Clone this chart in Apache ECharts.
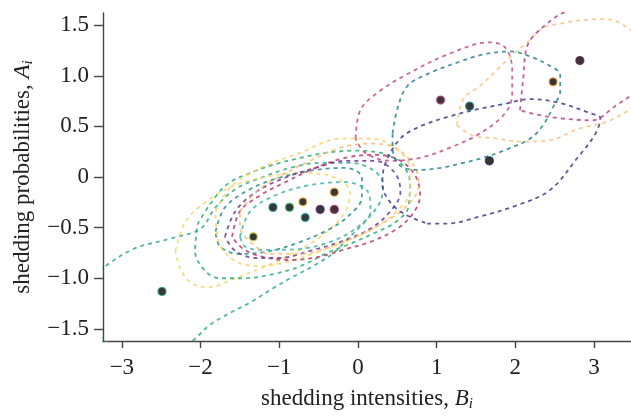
<!DOCTYPE html>
<html>
<head>
<meta charset="utf-8">
<script src="https://cdn.jsdelivr.net/npm/echarts@6/dist/echarts.min.js"></script>
<style>
html, body { margin: 0; padding: 0; background: #fff; }
#chart { width: 631px; height: 417px; }
</style>
</head>
<body>
<div id="chart"></div>
<script>
// shedding intensities (B) and probabilities (A) of each individual
const pointB = [-2.49, -1.33, -1.08, -0.87, -0.70, -0.67, -0.48, -0.30, -0.30, 1.05, 1.42, 1.67, 2.48, 2.82]
const pointA = [-1.13, -0.59, -0.30, -0.30, -0.245, -0.40, -0.32, -0.32, -0.15, 0.76, 0.70, 0.16, 0.94, 1.15]

const xTicks = [-3, -2, -1, 0, 1, 2, 3]
const yTicks = [-1.5, -1.0, -0.5, 0, 0.5, 1.0, 1.5]

// density contours, [B, A]
const contourLowTeal = [[-3.53, -1.07], [-3.21, -0.88], [-2.85, -0.71], [-2.39, -0.61], [-2.00, -0.51], [-1.81, -0.30], [-1.56, -0.12], [-1.24, -0.01], [-0.86, 0.09], [-0.48, 0.14], [-0.10, 0.14], [0.19, 0.07], [0.32, -0.07], [0.28, -0.25], [0.09, -0.44], [-0.14, -0.62], [-0.31, -0.75], [-0.57, -0.88], [-0.86, -1.00], [-1.08, -1.10], [-1.37, -1.24], [-1.62, -1.34], [-1.88, -1.46], [-2.09, -1.61], [-2.39, -1.77], [-2.89, -1.75], [-3.40, -1.46]]
const contourYellowLow = [[-2.32, -0.73], [-2.19, -0.44], [-1.94, -0.25], [-1.56, -0.08], [-1.11, 0.01], [-0.67, 0.04], [-0.29, -0.005], [-0.10, -0.15], [-0.16, -0.34], [-0.35, -0.51], [-0.67, -0.69], [-1.11, -0.86], [-1.56, -1.00], [-1.91, -1.09], [-2.13, -1.04], [-2.26, -0.90]]
const contourTeal = [[-1.81, -0.54], [-1.69, -0.30], [-1.37, -0.12], [-0.99, -0.005], [-0.54, 0.07], [-0.16, 0.09], [0.05, -0.005], [0.05, -0.20], [-0.10, -0.37], [-0.35, -0.51], [-0.73, -0.64], [-1.11, -0.73], [-1.50, -0.76], [-1.75, -0.69]]
const contourGreen = [[-2.04, -0.47], [-1.88, -0.27], [-1.66, -0.07], [-1.37, 0.04], [-1.08, 0.12], [-0.73, 0.19], [-0.39, 0.24], [-0.06, 0.26], [0.28, 0.24], [0.54, 0.14], [0.66, -0.05], [0.64, -0.30], [0.47, -0.45], [0.19, -0.56], [-0.10, -0.66], [-0.39, -0.75], [-0.73, -0.88], [-1.08, -0.96], [-1.46, -1.00], [-1.75, -1.00], [-1.94, -0.93], [-2.07, -0.73]]
const contourYellow = [[-1.81, -0.34], [-1.62, -0.10], [-1.24, 0.09], [-0.73, 0.24], [-0.22, 0.38], [0.16, 0.38], [0.47, 0.29], [0.66, 0.09], [0.66, -0.15], [0.54, -0.30], [0.28, -0.47], [-0.10, -0.62], [-0.48, -0.73], [-0.86, -0.83], [-1.24, -0.88], [-1.56, -0.83], [-1.77, -0.64]]
const contourCyan = [[-1.50, -0.59], [-1.37, -0.34], [-1.05, -0.18], [-0.61, -0.08], [-0.16, -0.05], [0.13, -0.15], [0.16, -0.34], [-0.03, -0.51], [-0.35, -0.64], [-0.73, -0.71], [-1.18, -0.72], [-1.43, -0.69]]
const contourPurple = [[-1.69, -0.59], [-1.56, -0.34], [-1.30, -0.15], [-0.92, -0.005], [-0.54, 0.09], [-0.16, 0.16], [0.22, 0.16], [0.47, 0.04], [0.54, -0.15], [0.41, -0.34], [0.16, -0.51], [-0.22, -0.64], [-0.61, -0.73], [-0.99, -0.80], [-1.30, -0.80], [-1.56, -0.73]]
const contourCrimson = [[-1.60, -0.59], [-1.50, -0.34], [-1.24, -0.18], [-0.92, -0.05], [-0.54, 0.09], [-0.16, 0.19], [0.22, 0.22], [0.54, 0.16], [0.73, 0.01], [0.79, -0.18], [0.70, -0.36], [0.50, -0.51], [0.16, -0.64], [-0.19, -0.72], [-0.50, -0.79], [-0.86, -0.82], [-1.20, -0.79], [-1.46, -0.71]]
const contourOrange = [[-1.50, -0.34], [-1.30, -0.15], [-0.99, 0.01], [-0.61, 0.16], [-0.22, 0.29], [0.16, 0.33], [0.47, 0.29], [0.73, 0.09], [0.77, -0.10], [0.60, -0.30], [0.35, -0.44], [0.03, -0.57], [-0.35, -0.69], [-0.73, -0.76], [-1.11, -0.76], [-1.37, -0.64], [-1.50, -0.49]]
const contourPinkHigh = [[-0.03, 0.38], [0.03, 0.66], [0.26, 0.84], [0.66, 1.03], [1.17, 1.22], [1.66, 1.33], [1.87, 1.28], [1.96, 1.06], [1.96, 0.82], [1.87, 0.63], [1.55, 0.43], [1.17, 0.29], [0.79, 0.19], [0.41, 0.16], [0.09, 0.24]]
const contourTealHigh = [[0.44, 0.43], [0.50, 0.67], [0.63, 0.90], [0.92, 1.03], [1.26, 1.13], [1.59, 1.21], [1.94, 1.24], [2.19, 1.19], [2.41, 1.11], [2.57, 1.01], [2.57, 0.85], [2.48, 0.69], [2.35, 0.51], [2.19, 0.38], [1.85, 0.26], [1.59, 0.19], [1.34, 0.14], [1.05, 0.09], [0.79, 0.07], [0.54, 0.11], [0.44, 0.29]]
const contourNavy = [[0.88, -0.46], [1.13, -0.46], [1.55, -0.39], [2.02, -0.28], [2.44, -0.13], [2.79, 0.19], [3.02, 0.43], [3.08, 0.58], [2.95, 0.63], [2.57, 0.73], [2.19, 0.77], [1.85, 0.72], [1.52, 0.67], [1.17, 0.60], [0.79, 0.50], [0.54, 0.38], [0.35, 0.14], [0.31, -0.07], [0.41, -0.25], [0.60, -0.37]]
const contourOrangeHigh = [[1.26, 0.51], [1.34, 0.77], [1.55, 0.90], [1.77, 1.06], [1.94, 1.19], [2.15, 1.33], [2.35, 1.47], [2.61, 1.52], [2.86, 1.55], [3.12, 1.56], [3.33, 1.52], [3.59, 1.35], [3.71, 1.06], [3.59, 0.77], [3.21, 0.56], [2.82, 0.48], [2.41, 0.36], [2.06, 0.35], [1.77, 0.38], [1.46, 0.41]]
const contourMagentaHigh = [[2.06, 0.66], [2.10, 0.97], [2.16, 1.31], [2.38, 1.50], [2.63, 1.63], [3.08, 1.74], [3.71, 1.69], [3.90, 1.26], [3.59, 0.89], [3.25, 0.69], [2.98, 0.56], [2.57, 0.58], [2.25, 0.62]]

// one contour per individual, same order as the points
const contours = [contourLowTeal, contourYellowLow, contourTeal, contourGreen, contourYellow, contourCyan, contourPurple, contourCrimson, contourOrange,
  contourPinkHigh, contourTealHigh, contourNavy, contourOrangeHigh, contourMagentaHigh]
const ringColors = ['#2a9d80', '#c9cf45', '#1e8a8a', '#2fb36b', '#f0c040', '#26b0a0', '#5a2d8a', '#b0305a', '#f0a030',
  '#c8407a', '#207e8c', '#1a2a5a', '#f0a040', '#6a1a40']
const lineColors = ['#3aa98f', '#f2d870', '#2b8c8c', '#32ae6e', '#f3d66a', '#3fb5a8', '#6a3a96', '#b83a6a', '#f7bd78',
  '#c0508a', '#2a8590', '#3c3f85', '#f6c588', '#b04888']

const font = 'Liberation Serif'
const fs = 23
const minus = s => String(s).replace('-', '\u2212')

let series = contours.map((c, i) => ({
  type: 'line',
  data: c.concat([c[0]]),
  smooth: 0.35,
  symbol: 'none',
  silent: true,
  z: 2,
  lineStyle: { color: lineColors[i], width: 1.8, type: [4, 4], opacity: 0.85 }
}))
series.push({
  type: 'scatter',
  z: 5,
  symbolSize: 8,
  data: pointB.map((b, i) => ({
    value: [b, pointA[i]],
    itemStyle: { color: '#050505', borderColor: ringColors[i], borderWidth: 1.3 }
  }))
})

function nameRich () {
  return {
    t: { fontFamily: font, fontSize: fs, color: '#222', lineHeight: 26 },
    v: { fontFamily: font, fontSize: fs, color: '#222', fontStyle: 'italic', lineHeight: 26 },
    s: { fontFamily: font, fontSize: 15, color: '#222', fontStyle: 'italic', lineHeight: 26, verticalAlign: 'bottom', padding: [9, 0, 0, 0] }
  }
}

let myChart = echarts.init(document.getElementById('chart'))
myChart.setOption({
  animation: false,
  grid: { left: 103, right: 0, top: 13, bottom: 70 },
  xAxis: {
    type: 'value',
    min: -3.24,
    max: 3.47,
    name: '{t|shedding intensities, }{v|B}{s|i}',
    nameLocation: 'middle',
    nameGap: 45,
    nameTextStyle: { rich: nameRich() },
    splitLine: { show: false },
    axisLine: { onZero: false, lineStyle: { color: '#444', width: 1.4 } },
    axisTick: { length: 7, customValues: xTicks, lineStyle: { color: '#444', width: 1.4 } },
    axisLabel: { customValues: xTicks, margin: 15, fontFamily: font, fontSize: fs, color: '#222', formatter: v => minus(v) }
  },
  yAxis: {
    type: 'value',
    min: -1.62,
    max: 1.62,
    name: '{t|shedding probabilities, }{v|A}{s|i}',
    nameLocation: 'middle',
    nameRotate: 90,
    nameGap: 67,
    nameTextStyle: { rich: nameRich() },
    splitLine: { show: false },
    axisLine: { show: true, onZero: false, lineStyle: { color: '#444', width: 1.4 } },
    axisTick: { show: true, length: 9, customValues: yTicks, lineStyle: { color: '#444', width: 1.4 } },
    axisLabel: { customValues: yTicks, margin: 14, fontFamily: font, fontSize: fs, color: '#222', formatter: v => v === 0 ? '0' : minus(v.toFixed(1)) }
  },
  series: series
})
</script>
</body>
</html>
